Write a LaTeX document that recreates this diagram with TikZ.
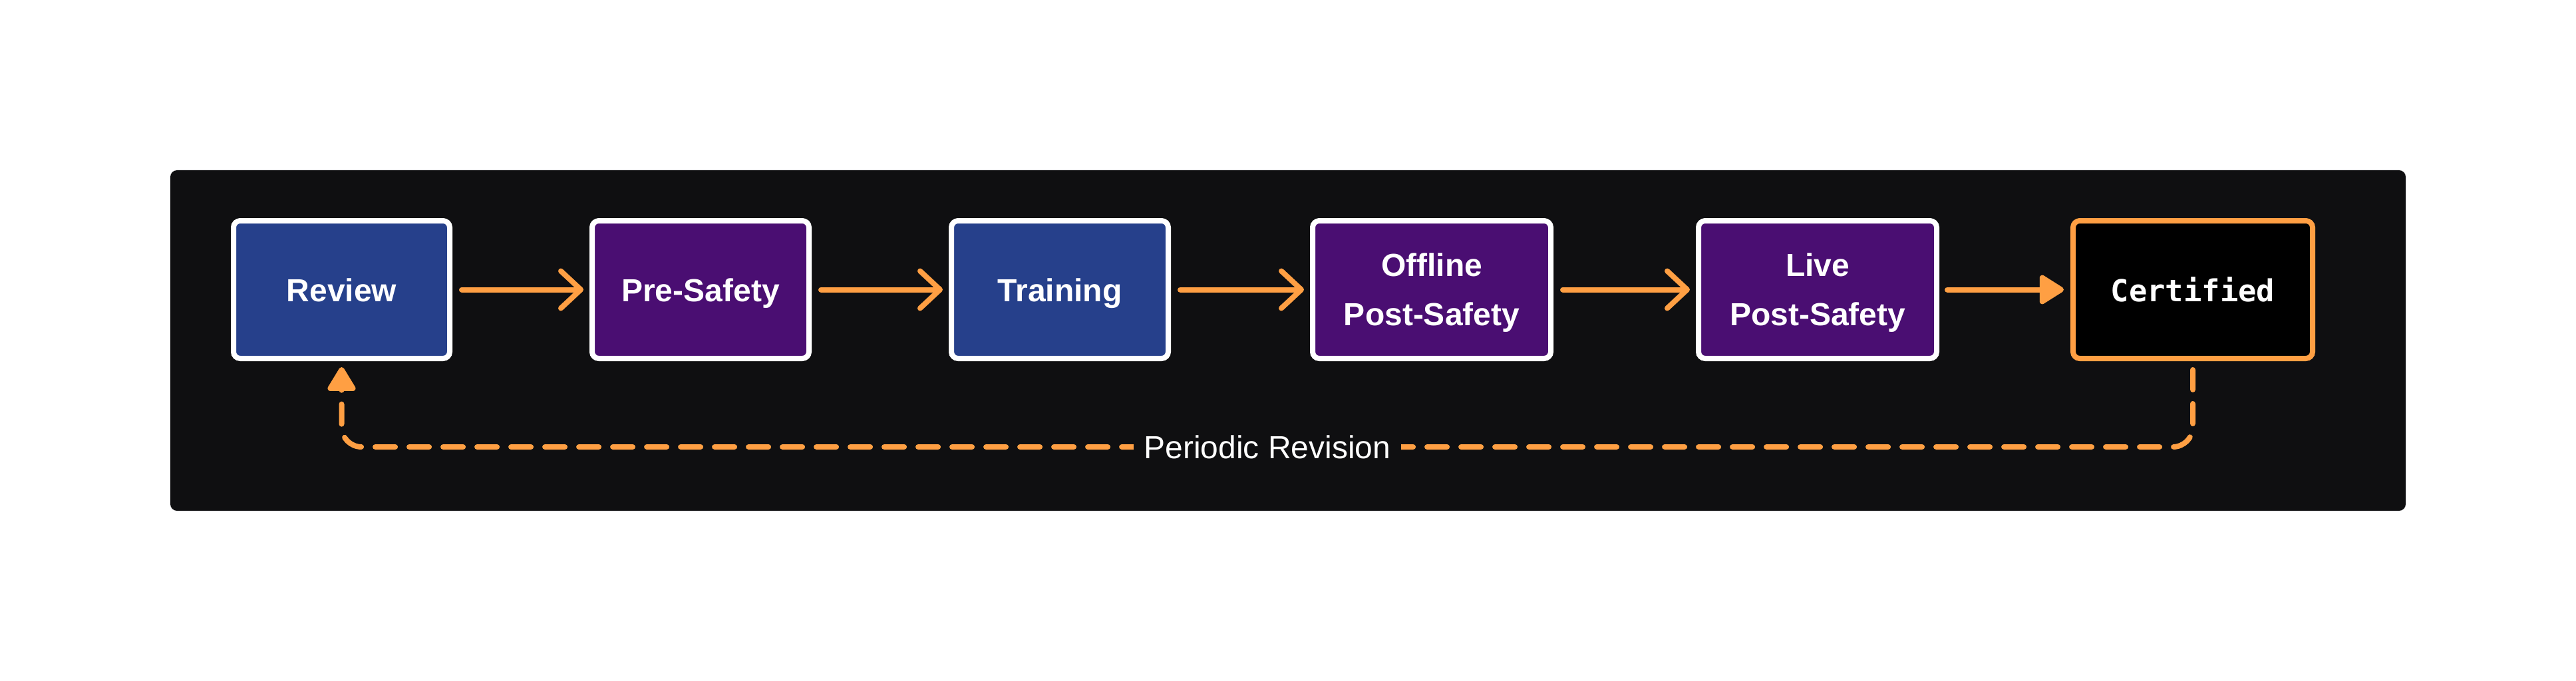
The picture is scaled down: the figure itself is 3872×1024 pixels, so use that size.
\documentclass[tikz,border=0pt]{standalone}
\usepackage{fontspec}
\setmainfont{Liberation Sans}
\newfontfamily\monofont{DejaVu Sans Mono}
\usetikzlibrary{arrows.meta}
\definecolor{panel}{HTML}{0F0F11}
\definecolor{bluefill}{HTML}{26408B}
\definecolor{purplefill}{HTML}{4A0E72}
\definecolor{orng}{HTML}{FF9F43}
\begin{document}
\begin{tikzpicture}[x=1pt,y=-1pt,
  stage/.style={draw=white, line width=8pt, rounded corners=10pt,
    minimum height=207pt, text=white, align=center, inner sep=0pt,
    font=\fontsize{48}{74}\selectfont\bfseries},
  oneline/.style={text height=35pt, text depth=0pt},
  twoline/.style={text depth=0pt},
  bluestage/.style={stage, fill=bluefill},
  purplestage/.style={stage, fill=purplefill},
  certstage/.style={stage, draw=orng, fill=black,
    font=\fontsize{45.5}{60}\selectfont\monofont\bfseries},
  flow/.style={draw=orng, line width=8pt, line cap=round,
    -{Straight Barb[length=30pt,width=56pt,round]},
    shorten <=14pt, shorten >=9pt},
  solidflow/.style={draw=orng, line width=8pt, line cap=round,
    -{Triangle[length=40pt,width=48pt,round]},
    shorten <=12pt, shorten >=10pt},
  backflow/.style={draw=orng, line width=8pt, line cap=round,
    dash pattern=on 30pt off 21pt, rounded corners=30pt,
    -{Triangle[length=40pt,width=46pt,round]},
    shorten <=13pt, shorten >=9pt},
  looplabel/.style={fill=panel, text=white, inner xsep=16pt, inner ysep=8pt,
    font=\fontsize{48}{58}\selectfont}
]
\useasboundingbox (0,0) rectangle (3872,1024);
\fill[white] (0,0) rectangle (3872,1024);
\fill[panel, rounded corners=10pt] (256,256) rectangle (3616,768);

\node[bluestage, oneline, minimum width=325pt] (review) at (513.5,435.5) {Review};
\node[purplestage, oneline, minimum width=326pt] (pre) at (1053,435.5) {Pre-Safety};
\node[bluestage, oneline, minimum width=326pt] (train) at (1593,435.5) {Training};
\node[purplestage, twoline, minimum width=358pt] (offline) at (2152,435.5) {Offline\\Post-Safety};
\node[purplestage, twoline, minimum width=358pt] (live) at (2732,435.5) {Live\\Post-Safety};
\node[certstage, oneline, minimum width=360pt] (cert) at (3296,435.5) {Certified};

\draw[flow] (review) -- (pre);
\draw[flow] (pre) -- (train);
\draw[flow] (train) -- (offline);
\draw[flow] (offline) -- (live);
\draw[solidflow] (live) -- (cert);

\draw[backflow] (cert.south) -- ++(0,129) -| (review.south);
\node[looplabel] (revision) at (1905,672.5) {Periodic Revision};
\end{tikzpicture}
\end{document}
